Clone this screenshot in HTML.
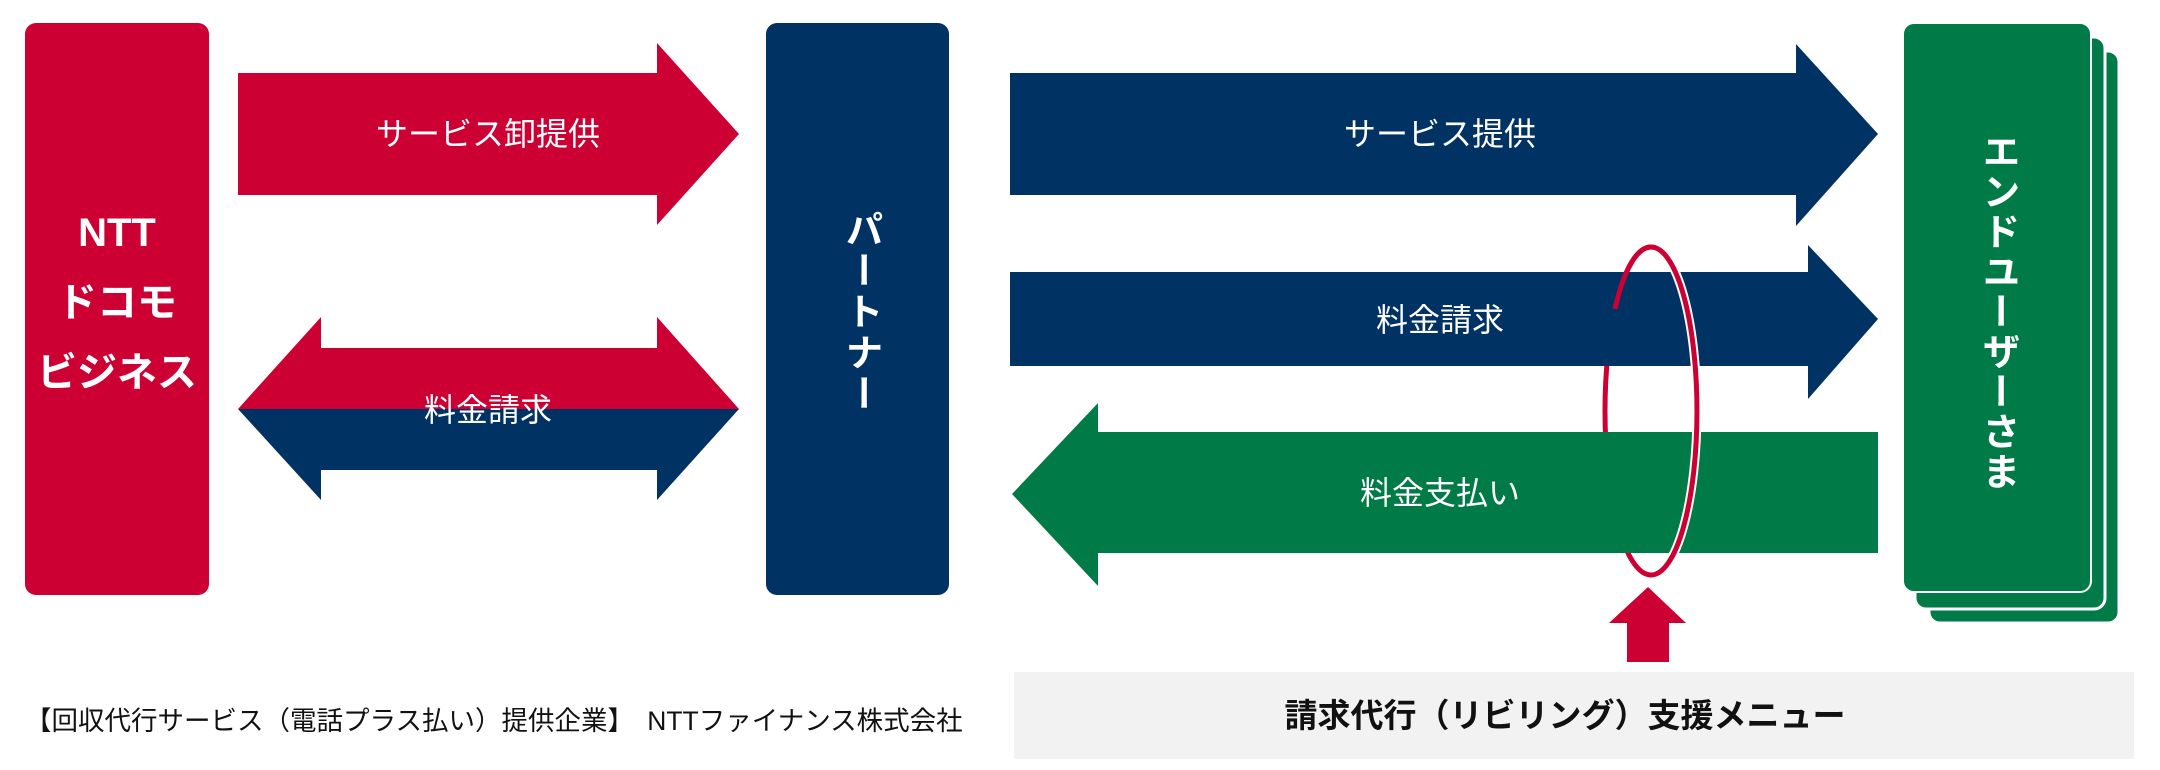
<!DOCTYPE html>
<html><head><meta charset="utf-8"><style>
html,body{margin:0;padding:0;background:#fff;}
svg{display:block;}
text{font-family:"Liberation Sans","Noto Sans CJK JP",sans-serif;}
</style></head><body>
<svg width="2160" height="770" viewBox="0 0 2160 770" xmlns="http://www.w3.org/2000/svg">
<!-- NTT box -->
<rect x="25" y="23" width="184" height="572" rx="11" fill="#cc0033"/>
<g fill="#fff" font-weight="bold" font-size="40" text-anchor="middle">
<text x="117" y="246">NTT</text>
<text x="117" y="316">ドコモ</text>
<text x="117" y="386">ビジネス</text>
</g>
<!-- Partner box -->
<rect x="766" y="23" width="183" height="572" rx="11" fill="#003263"/>
<text x="860" y="210" fill="#fff" font-weight="bold" font-size="38" style="writing-mode:vertical-rl" letter-spacing="3" text-anchor="start">パートナー</text>
<!-- End user stack -->
<rect x="1929" y="51" width="190" height="572" rx="11" fill="#007a47" stroke="#fff" stroke-width="3"/>
<rect x="1915" y="37" width="190" height="572" rx="11" fill="#007a47" stroke="#fff" stroke-width="3"/>
<rect x="1903" y="23" width="188" height="569" rx="11" fill="#007a47" stroke="#fff" stroke-width="2"/>
<text x="1997" y="132" fill="#fff" font-weight="bold" font-size="38" style="writing-mode:vertical-rl" letter-spacing="2">エンドユーザーさま</text>
<!-- left red arrow -->
<polygon points="238,73 657,73 657,43 739,134 657,225 657,195 238,195" fill="#cc0033"/>
<text x="488" y="145" fill="#fff" font-size="32" text-anchor="middle">サービス卸提供</text>
<!-- double arrow -->
<polygon points="238,409 321,317 321,348 657,348 657,317 739,409" fill="#cc0033"/>
<polygon points="238,409 321,500 321,470 657,470 657,500 739,409" fill="#003263"/>
<text x="488" y="421" fill="#fff" font-size="32" text-anchor="middle">料金請求</text>
<!-- ellipse back -->
<ellipse cx="1651" cy="411" rx="46" ry="164" fill="none" stroke="#cc0033" stroke-width="5"/>
<!-- blue arrows -->
<polygon points="1010,73 1796,73 1796,44 1878,134 1796,226 1796,195 1010,195" fill="#003263"/>
<text x="1440" y="145" fill="#fff" font-size="32" text-anchor="middle">サービス提供</text>
<polygon points="1010,272 1808,272 1808,245 1878,319 1808,399 1808,366 1010,366" fill="#003263"/>
<text x="1440" y="331" fill="#fff" font-size="32" text-anchor="middle">料金請求</text>
<!-- green arrow -->
<polygon points="1878,432 1878,553 1098,553 1098,586 1012,494 1098,403 1098,432" fill="#007a47"/>
<text x="1440" y="504" fill="#fff" font-size="32" text-anchor="middle">料金支払い</text>
<!-- ellipse front right half -->
<path d="M1651,247 A46,164 0 0 1 1651,575" fill="none" stroke="#fff" stroke-width="9"/>
<path d="M1651,247 A46,164 0 0 1 1651,575" fill="none" stroke="#cc0033" stroke-width="5"/>
<path d="M1651,247 A46,164 0 0 0 1615,309" fill="none" stroke="#cc0033" stroke-width="5"/>
<!-- up arrow -->
<polygon points="1648,587 1686,623 1669,623 1669,662 1627,662 1627,623 1609,623" fill="#cc0033"/>
<!-- gray box -->
<rect x="1014" y="672" width="1120" height="87" fill="#f2f2f2"/>
<text x="1565" y="727" fill="#111" font-weight="bold" font-size="33" text-anchor="middle">請求代行（リビリング）支援メニュー</text>
<text x="25" y="730" fill="#111" font-size="26.5">【回収代行サービス（電話プラス払い）提供企業】　NTTファイナンス株式会社</text>
</svg>
</body></html>
